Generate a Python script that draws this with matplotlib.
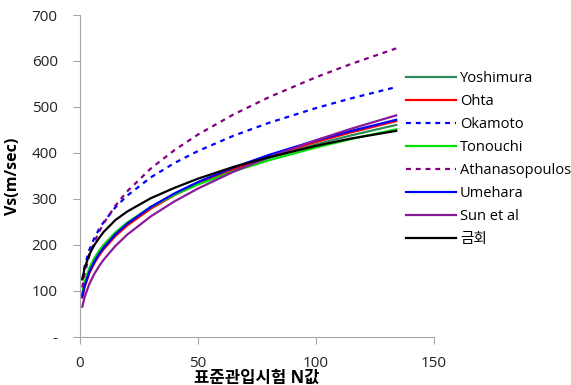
import matplotlib.pyplot as plt

plt.rcParams['font.family'] = ['Open Sans', 'Noto Sans CJK KR', 'DejaVu Sans']

# N values (SPT blow count) and Vs
n_vals = [1, 2, 4, 6, 8, 10, 15, 20, 30, 40, 50, 65, 80, 100, 115, 134]

yoshimura = [92, 115.6, 145.2, 165.9, 182.4, 196.2, 224.3, 246.5, 281.7, 309.6, 333.3, 363.3, 389.0, 418.6, 438.3, 461.0]
ohta = [85.4, 108.6, 138.3, 159.2, 176.0, 190.2, 219.0, 242.1, 278.8, 308.1, 333.0, 364.8, 392.2, 423.8, 444.9, 469.3]
okamoto = [125, 153.9, 189.5, 214.0, 233.3, 249.4, 281.7, 307.1, 346.8, 378.0, 404.2, 437.3, 465.4, 497.6, 518.9, 543.3]
tonouchi = [97, 120.6, 149.9, 170.3, 186.3, 199.9, 227.0, 248.5, 282.2, 308.9, 331.3, 359.8, 384.0, 411.9, 430.4, 451.5]
athanasopoulos = [107.6, 138.1, 177.2, 205.1, 227.5, 246.5, 285.2, 316.4, 366.1, 406.0, 440.0, 483.6, 521.1, 564.7, 593.8, 627.4]
umehara = [88, 111.6, 141.6, 162.7, 179.6, 193.8, 222.8, 245.9, 282.6, 311.9, 336.7, 368.4, 395.6, 427.1, 448.0, 472.1]
sun_et_al = [65.6, 87.0, 115.4, 136.1, 153.0, 167.6, 197.6, 222.2, 262.0, 294.6, 322.6, 359.0, 390.6, 427.7, 452.8, 481.8]
this_study = [125, 149.7, 179.3, 198.9, 214.1, 228.0, 254.0, 272.5, 301.5, 324.0, 344.0, 369.6, 390.5, 415.5, 431.5, 448.0]

series = [
    ('Yoshimura', yoshimura, '#2E8B57', '-'),
    ('Ohta', ohta, '#FF0000', '-'),
    ('Okamoto', okamoto, '#0000FF', '--'),
    ('Tonouchi', tonouchi, '#00E000', '-'),
    ('Athanasopoulos', athanasopoulos, '#800080', '--'),
    ('Umehara', umehara, '#0000FF', '-'),
    ('Sun et al', sun_et_al, '#8B1A9B', '-'),
    ('금회', this_study, '#000000', '-'),
]

fig = plt.figure(figsize=(5.71, 3.85), dpi=100)
ax = fig.add_axes([0.140, 0.125, 0.620, 0.836])

for name, vals, color, ls in series:
    if ls == '--':
        ax.plot(n_vals, vals, color=color, lw=1.6, linestyle=(0, (2.2, 2.2)), label=name)
    else:
        ax.plot(n_vals, vals, color=color, lw=1.6, label=name)

ax.set_xlim(0, 150)
ax.set_ylim(0, 700)
ax.set_xticks([0, 50, 100, 150])
ax.set_yticks([0, 100, 200, 300, 400, 500, 600, 700])
ax.set_yticklabels(['-', '100', '200', '300', '400', '500', '600', '700'])

for side in ['top', 'right']:
    ax.spines[side].set_visible(False)
for side in ['left', 'bottom']:
    ax.spines[side].set_color('#A6A6A6')

ax.tick_params(axis='y', colors='#A6A6A6', labelcolor='#222222', labelsize=11, length=5, pad=11)
ax.tick_params(axis='x', colors='#A6A6A6', labelcolor='#222222', labelsize=11, length=5, pad=9)

ax.set_xlabel('표준관입시험 N값', fontsize=12, fontweight='bold', labelpad=-2)
ax.set_ylabel('Vs(m/sec)', fontsize=11.5, fontweight='bold', labelpad=8)

leg = fig.legend(loc='upper left', bbox_to_anchor=(406 / 571, 1 - 71 / 385), frameon=False,
                 fontsize=10.5, handlelength=3.4, handletextpad=0.3, labelspacing=0.55,
                 borderaxespad=0, borderpad=0)

plt.savefig('out.png', dpi=100)
